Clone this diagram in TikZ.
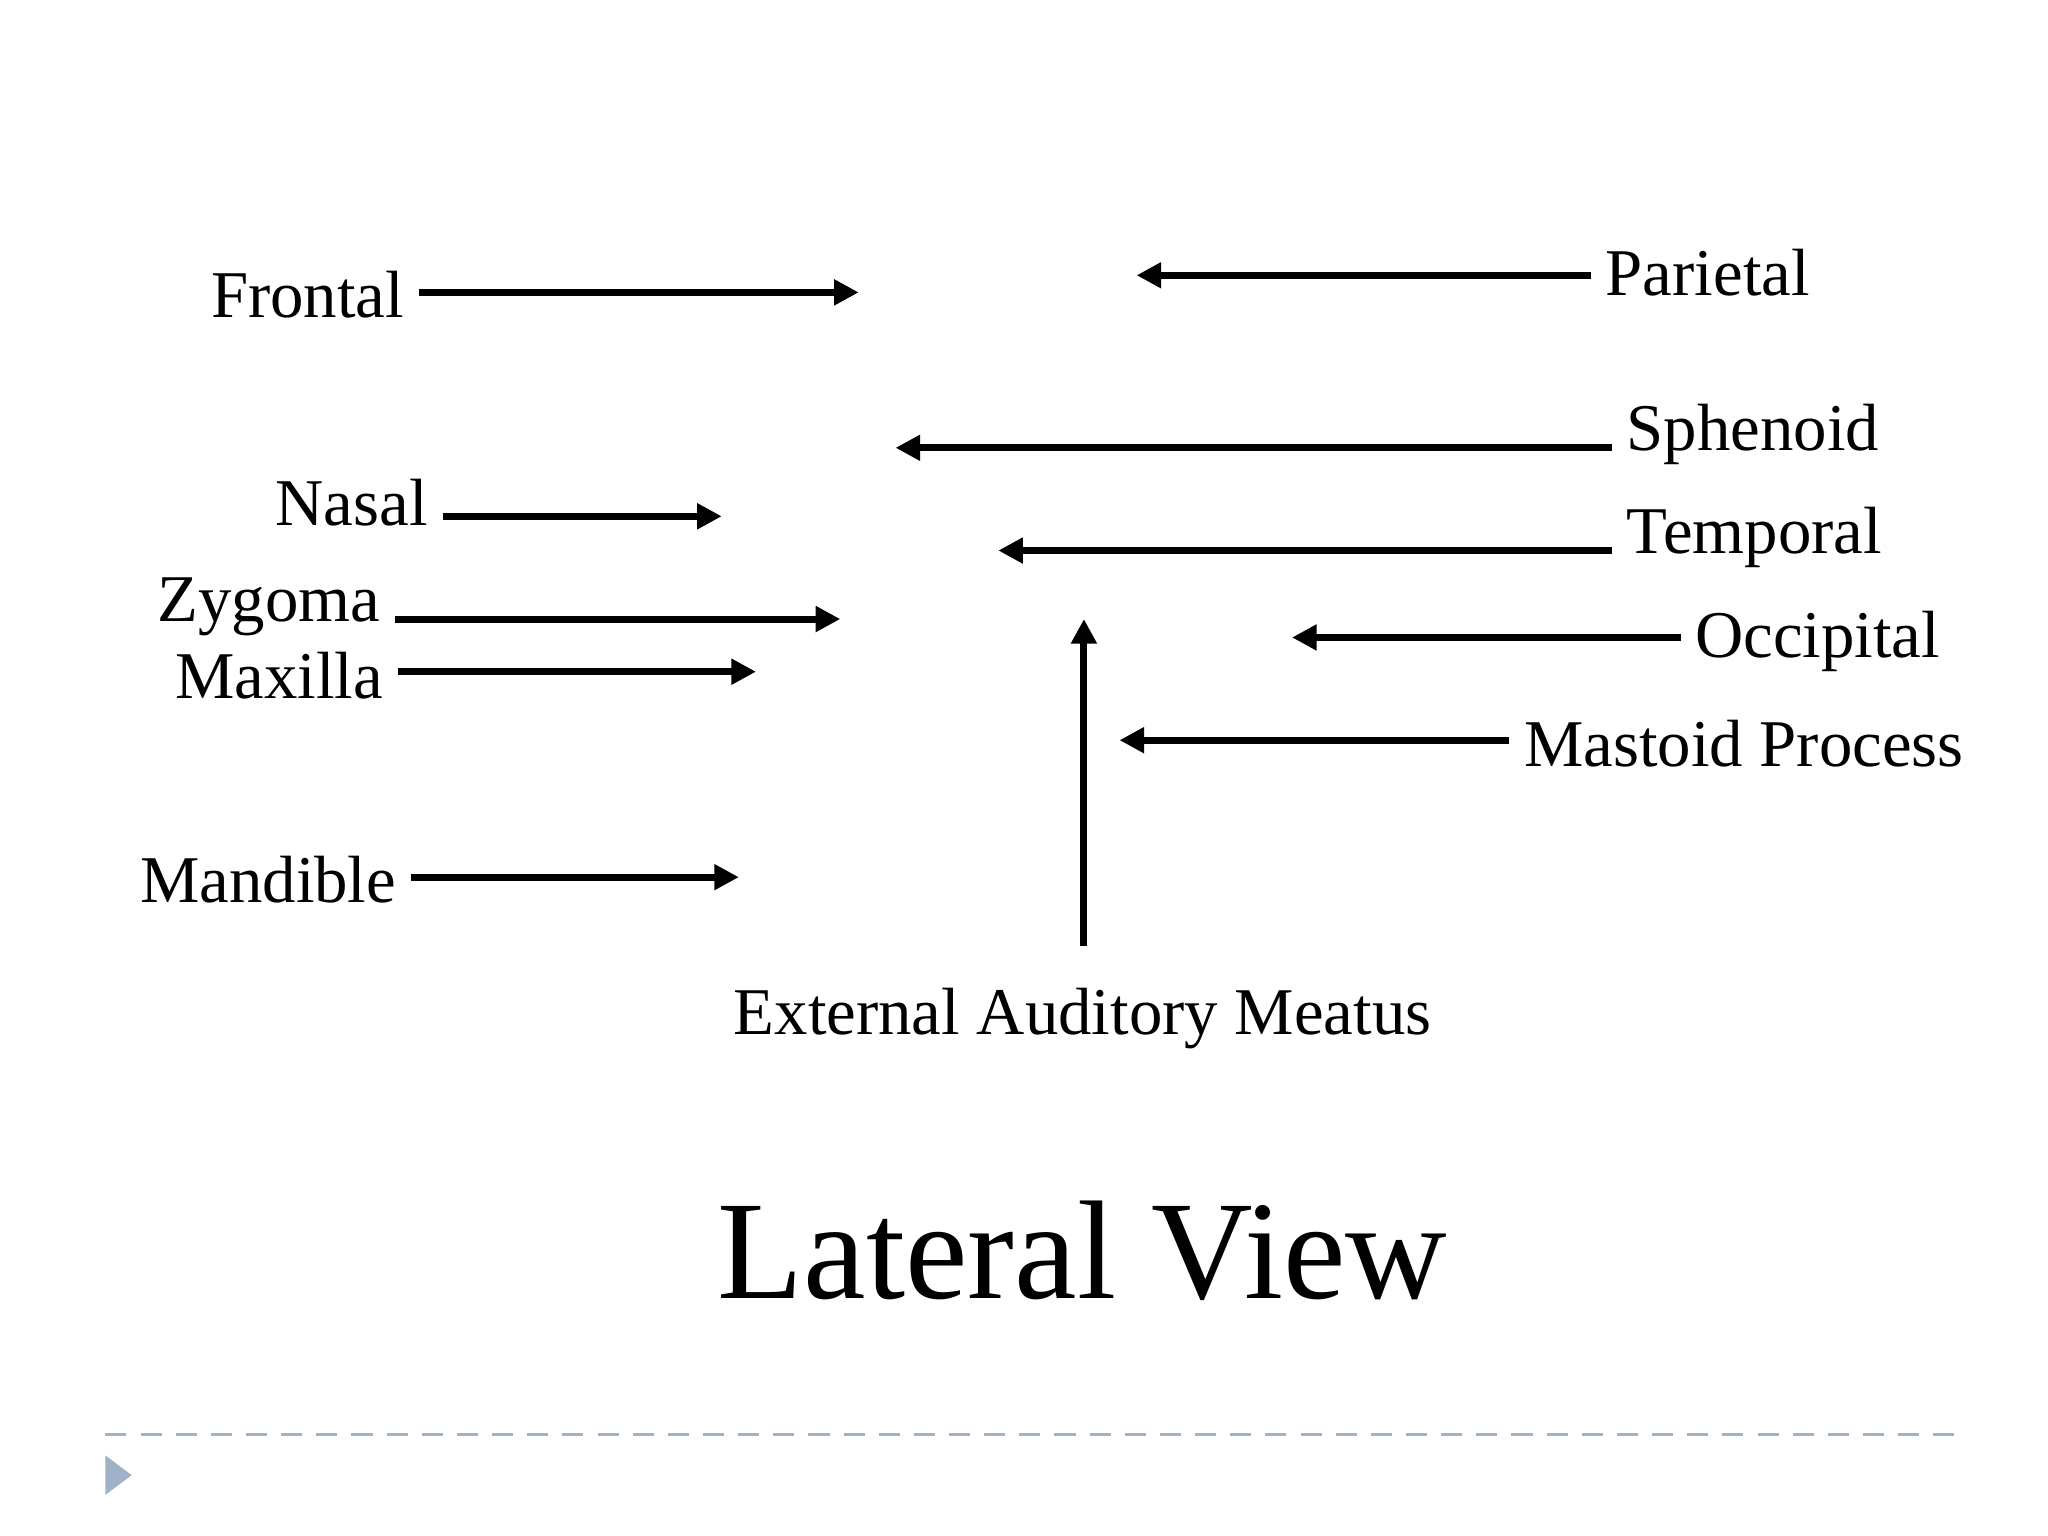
\documentclass[tikz,border=0pt]{standalone}
\usepackage{fontspec}
\setmainfont{Liberation Serif}
\usetikzlibrary{arrows.meta}
\definecolor{rulegray}{RGB}{160,178,200}
\tikzset{
  bone/.style   = {font=\fontsize{19}{22}\selectfont, inner sep=4pt},
  pointer/.style= {line width=2pt, -{Triangle[length=7pt,width=7pt]}}
}
\begin{document}
\begin{tikzpicture}[x=0.01317cm, y=-0.01317cm]
    \useasboundingbox (0,0) rectangle (1555,1166);

    % labels on the left
    \node(frontal)[bone, anchor=east] at (318,224) {Frontal};
    \node(nasal)[bone, anchor=east] at (336,382) {Nasal};
    \node(zygoma)[bone, anchor=east] at (300,461) {Zygoma};
    \node(maxilla)[bone, anchor=east] at (302,513) {Maxilla};
    \node(mandible)[bone, anchor=east] at (312,668) {Mandible};
    % labels on the right
    \node(parietal)[bone, anchor=west] at (1208,207) {Parietal};
    \node(sphenoid)[bone, anchor=west] at (1224,330) {Sphenoid};
    \node(temporal)[bone, anchor=west] at (1224,408) {Temporal};
    \node(occipital)[bone, anchor=west] at (1276,487) {Occipital};
    \node(mastoid)[bone, anchor=west] at (1146,565) {Mastoid Process};
    \node(meatus)[bone] at (822,773) {External Auditory Meatus};
    \node(title)[font=\fontsize{40}{46}\selectfont] at (822,950) {Lateral View};

    % arrow tips
    \coordinate(tF) at (652,222);
    \coordinate(tN) at (548,392);
    \coordinate(tZ) at (638,470);
    \coordinate(tX) at (574,510);
    \coordinate(tM) at (561,666);
    \coordinate(tP) at (863,209);
    \coordinate(tS) at (680,340);
    \coordinate(tT) at (758,418);
    \coordinate(tO) at (981,484);
    \coordinate(tA) at (850,562);
    \coordinate(tE) at (823,470);
    \coordinate(sE) at (823,718);

    \draw[pointer] (frontal.east |- tF) -- (tF);
    \draw[pointer] (nasal.east |- tN) -- (tN);
    \draw[pointer] (zygoma.east |- tZ) -- (tZ);
    \draw[pointer] (maxilla.east |- tX) -- (tX);
    \draw[pointer] (mandible.east |- tM) -- (tM);
    \draw[pointer] (parietal.west |- tP) -- (tP);
    \draw[pointer] (sphenoid.west |- tS) -- (tS);
    \draw[pointer] (temporal.west |- tT) -- (tT);
    \draw[pointer] (occipital.west |- tO) -- (tO);
    \draw[pointer] (mastoid.west |- tA) -- (tA);
    \draw[pointer] (sE) -- (tE);

    % footer
    \draw[rulegray, line width=1pt, dash pattern=on 6pt off 4pt] (80,1089) -- (1490,1089);
    \fill[rulegray] (80,1105) -- (100,1120) -- (80,1135) -- cycle;
\end{tikzpicture}
\end{document}
